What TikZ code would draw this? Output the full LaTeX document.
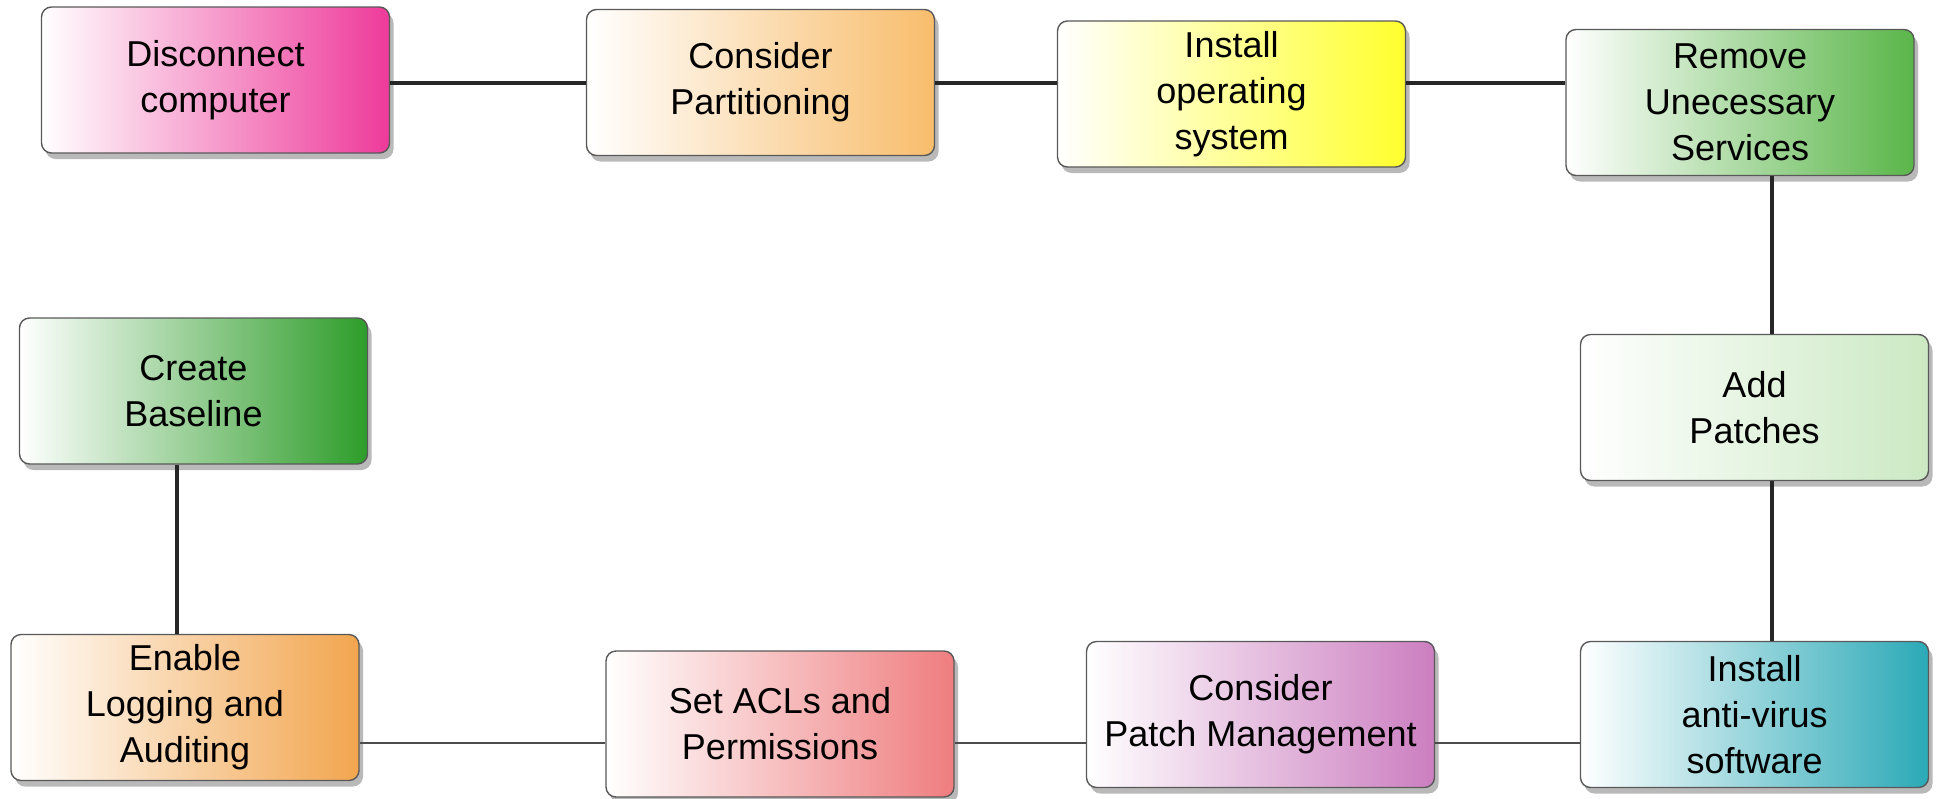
\documentclass[tikz,border=0pt]{standalone}
\usepackage{fontspec}
\setmainfont{Liberation Sans}
\usetikzlibrary{shadows}
\definecolor{cPink}{HTML}{EE3A9A}
\definecolor{cLOrange}{HTML}{F8BD6C}
\definecolor{cYellow}{HTML}{FFFF2E}
\definecolor{cGreenA}{HTML}{5AB649}
\definecolor{cPaleGreen}{HTML}{CBE9C3}
\definecolor{cTeal}{HTML}{2BA9B7}
\definecolor{cOrchid}{HTML}{CC7EC0}
\definecolor{cSalmon}{HTML}{EF7D7F}
\definecolor{cOrange}{HTML}{F2A54E}
\definecolor{cGreenB}{HTML}{2E9D2A}
\tikzset{
  stepbox/.style={draw=black!65, line width=0.7pt, rounded corners=5pt,
    minimum width=174pt, minimum height=73pt, align=center,
    font=\fontsize{18}{23}\selectfont, left color=white, right color=#1,
    drop shadow={shadow xshift=2pt, shadow yshift=-3pt, opacity=0.55}},
  topline/.style={line width=1.6pt, draw=black!85},
  botline/.style={line width=1pt, draw=black!70}
}
\begin{document}
\begin{tikzpicture}[x=0.5pt,y=-0.5pt]
\useasboundingbox (0,0) rectangle (1936,798);
\node[stepbox=cPink]      (b1)  at (215.5,80)   {Disconnect\\computer};
\node[stepbox=cLOrange]   (b2)  at (760.5,82.5) {Consider\\Partitioning};
\node[stepbox=cYellow]    (b3)  at (1231.5,94)  {Install\\operating\\system};
\node[stepbox=cGreenA]    (b4)  at (1740,102.5) {Remove\\Unecessary\\Services};
\node[stepbox=cPaleGreen] (b5)  at (1754.5,407.5) {Add\\Patches};
\node[stepbox=cTeal]      (b6)  at (1754.5,714.5) {Install\\anti-virus\\software};
\node[stepbox=cOrchid]    (b7)  at (1260.5,714.5) {Consider\\Patch Management};
\node[stepbox=cSalmon]    (b8)  at (780,724)    {Set ACLs and\\Permissions};
\node[stepbox=cOrange]    (b9)  at (185,707.5)  {Enable\\Logging and\\Auditing};
\node[stepbox=cGreenB]    (b10) at (193.5,391)  {Create\\Baseline};
\coordinate (top) at (0,83);
\coordinate (right) at (1772,0);
\coordinate (bot) at (0,743);
\coordinate (left) at (177,0);
\draw[topline] (b1.east |- top) -- (b2.west |- top);
\draw[topline] (b2.east |- top) -- (b3.west |- top);
\draw[topline] (b3.east |- top) -- (b4.west |- top);
\draw[topline] (b4.south -| right) -- (b5.north -| right);
\draw[topline] (b5.south -| right) -- (b6.north -| right);
\draw[botline] (b6.west |- bot) -- (b7.east |- bot);
\draw[botline] (b7.west |- bot) -- (b8.east |- bot);
\draw[botline] (b8.west |- bot) -- (b9.east |- bot);
\draw[topline] (b9.north -| left) -- (b10.south -| left);
\end{tikzpicture}
\end{document}
